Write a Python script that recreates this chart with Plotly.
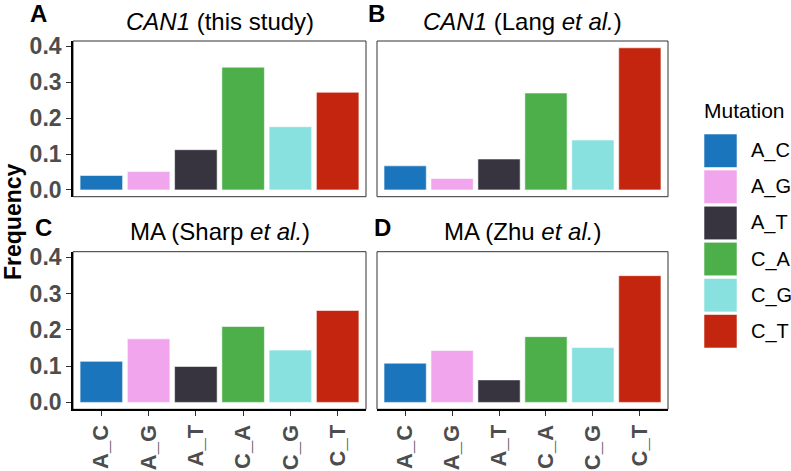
import plotly.graph_objects as go

categories = ["A_C", "A_G", "A_T", "C_A", "C_G", "C_T"]
colors = ["#1B75BC", "#F0A5EC", "#37343F", "#4DAF4A", "#88E1DE", "#C4250F"]
panel_letters = ["A", "B", "C", "D"]
panel_titles = ["<i>CAN1</i> (this study)", "<i>CAN1</i> (Lang <i>et al.</i>)",
                "MA (Sharp <i>et al.</i>)", "MA (Zhu <i>et al.</i>)"]
freq_A = [0.040, 0.051, 0.112, 0.342, 0.176, 0.272]
freq_B = [0.067, 0.032, 0.086, 0.270, 0.139, 0.396]
freq_C = [0.113, 0.175, 0.099, 0.209, 0.144, 0.253]
freq_D = [0.108, 0.143, 0.062, 0.181, 0.151, 0.349]
panels = [freq_A, freq_B, freq_C, freq_D]
y_ticks = [0.0, 0.1, 0.2, 0.3, 0.4]

W, H = 791, 471
FONT = "Liberation Sans, Arial, Helvetica, sans-serif"

def px_x(p):
    return p / W

def px_y(p):
    return 1 - p / H

col_dom = [[px_x(73), px_x(366)], [px_x(377), px_x(668)]]
row_dom = [[px_y(196.7), px_y(41)], [px_y(409.3), px_y(251.7)]]

fig = go.Figure()
layout = dict(width=W, height=H, margin=dict(l=0, r=0, t=0, b=0),
              paper_bgcolor="white", plot_bgcolor="white", showlegend=False,
              bargap=0.1, font=dict(family=FONT))
shapes = []
annotations = []

for i, vals in enumerate(panels):
    r, c = divmod(i, 2)
    ax = "" if i == 0 else str(i + 1)
    fig.add_trace(go.Bar(
        x=categories, y=vals, marker=dict(color=colors, line=dict(color="rgba(255,255,255,0.55)", width=1)),
        width=0.9, xaxis="x" + ax, yaxis="y" + ax, showlegend=False))
    xa = dict(domain=col_dom[c], anchor="y" + ax, type="category",
              categoryorder="array", categoryarray=categories,
              range=[-0.6, 5.6], showgrid=False, zeroline=False, automargin=False,
              fixedrange=True)
    ya = dict(domain=row_dom[r], anchor="x" + ax, range=[-0.019, 0.415],
              showgrid=False, zeroline=False, automargin=False, fixedrange=True)
    if r == 1:
        xa.update(showline=True, linecolor="black", linewidth=1.6,
                  ticks="outside", ticklen=5, tickcolor="#333333", tickwidth=1.2,
                  showticklabels=True, tickangle=-90,
                  tickfont=dict(family=FONT, size=22, color="#4D4D4D", weight="bold"))
    else:
        xa.update(showline=False, ticks="", showticklabels=False)
    if c == 0:
        ya.update(showline=True, linecolor="black", linewidth=1.6,
                  ticks="outside", ticklen=5, tickcolor="#333333", tickwidth=1.2,
                  tickvals=y_ticks, ticktext=[f"{v:.1f}" for v in y_ticks],
                  showticklabels=True,
                  tickfont=dict(family=FONT, size=23, color="#4D4D4D", weight="bold"))
    else:
        ya.update(showline=False, ticks="", showticklabels=False)
    layout["xaxis" + ax] = xa
    layout["yaxis" + ax] = ya
    shapes.append(dict(type="rect", xref="x" + ax + " domain", yref="y" + ax + " domain",
                       x0=0, x1=1, y0=0, y1=1, layer="below",
                       line=dict(color="#333333", width=1)))
    # panel title
    xc = (col_dom[c][0] + col_dom[c][1]) / 2
    title_y = [21.5, 231.5][r]
    annotations.append(dict(text=panel_titles[i], x=xc, y=px_y(title_y), xref="paper", yref="paper",
                            xanchor="center", yanchor="middle", showarrow=False,
                            font=dict(family=FONT, size=24, color="black")))
    letter_x = [[38, 376], [43, 382]][r][c]
    letter_y = [14, 227][r]
    annotations.append(dict(text="<b>" + panel_letters[i] + "</b>", x=px_x(letter_x), y=px_y(letter_y),
                            xref="paper", yref="paper", xanchor="center", yanchor="middle",
                            showarrow=False, font=dict(family=FONT, size=24, color="black")))

# y-axis title
annotations.append(dict(text="<b>Frequency</b>", x=px_x(13), y=px_y(222), xref="paper", yref="paper",
                        xanchor="center", yanchor="middle", textangle=-90, showarrow=False,
                        font=dict(family=FONT, size=23, color="black")))

# legend
annotations.append(dict(text="Mutation", x=px_x(702), y=px_y(111), xref="paper", yref="paper",
                        xanchor="left", yanchor="middle", showarrow=False,
                        font=dict(family=FONT, size=21, color="black")))
key_top0, key_pitch, key_h = 134, 36.1, 33.5
for k, (cat, col) in enumerate(zip(categories, colors)):
    top = key_top0 + k * key_pitch
    shapes.append(dict(type="rect", xref="paper", yref="paper",
                       x0=px_x(704), x1=px_x(737), y0=px_y(top + key_h), y1=px_y(top),
                       fillcolor=col, line=dict(color="rgba(255,255,255,0.55)", width=1)))
    annotations.append(dict(text=cat, x=px_x(749), y=px_y(top + key_h / 2), xref="paper", yref="paper",
                            xanchor="left", yanchor="middle", showarrow=False,
                            font=dict(family=FONT, size=20, color="black")))

layout["shapes"] = shapes
layout["annotations"] = annotations
fig.update_layout(**layout)
fig.write_html("out.html", config={"displayModeBar": False},
               post_script="document.body.style.margin='0';document.body.style.overflow='hidden';")
